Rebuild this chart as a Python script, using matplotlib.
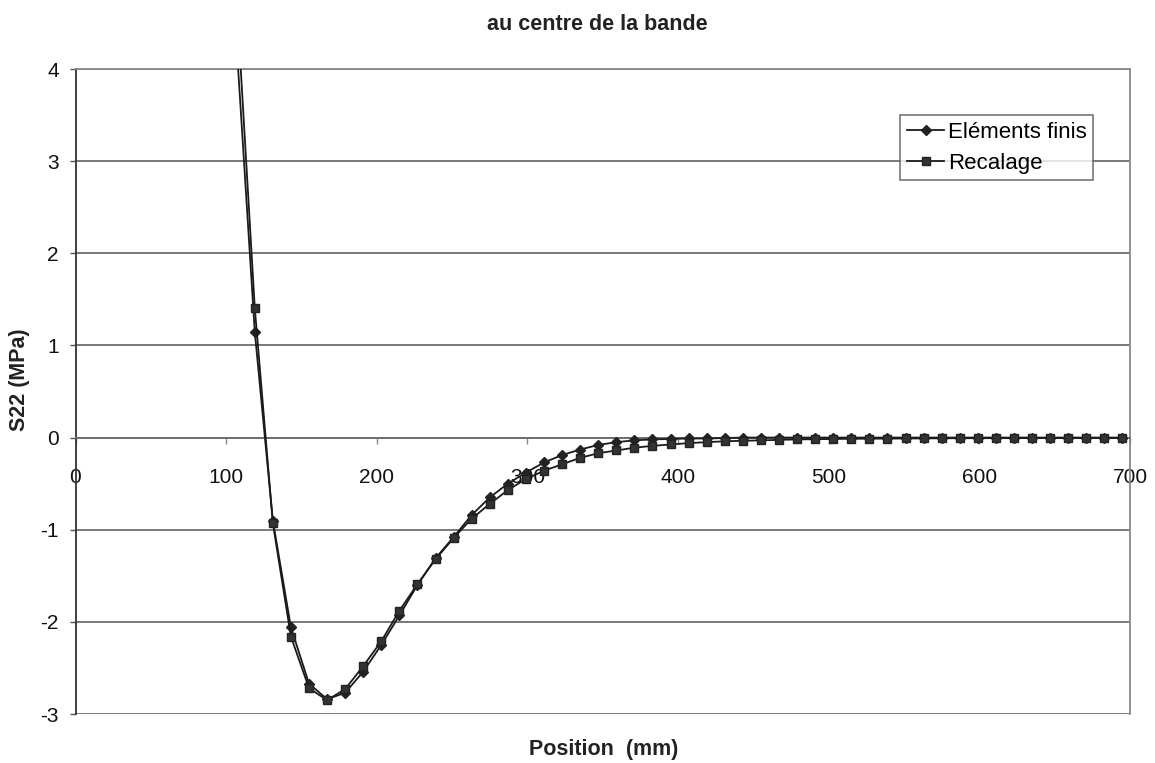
import matplotlib
matplotlib.use("Agg")
import matplotlib.pyplot as plt

plt.rcParams['font.family'] = ['Liberation Sans', 'DejaVu Sans']

# Positions (mm) of the plotted points
position = [107, 119, 131, 143, 155, 167, 179, 191, 203, 215, 227, 239, 251, 263, 275, 287,
            299, 311, 323, 335, 347, 359, 371, 383, 395, 407, 419, 431, 443, 455,
            467, 479, 491, 503, 515, 527, 539, 551, 563, 575, 587, 599, 611, 623,
            635, 647, 659, 671, 683, 695]

elements_finis = [4.25, 1.15, -0.90, -2.06, -2.67, -2.84, -2.77, -2.54, -2.25, -1.93, -1.60, -1.31,
                  -1.08, -0.84, -0.65, -0.50, -0.38, -0.27, -0.19, -0.13, -0.08,
                  -0.05, -0.03, -0.02, -0.015, -0.01, -0.01, -0.005, 0.0, 0.0,
                  0.0, 0.0, 0.0, 0.0, 0.0, 0.0, 0.0, 0.0, 0.0, 0.0, 0.0, 0.0,
                  0.0, 0.0, 0.0, 0.0, 0.0, 0.0, 0.0, 0.0]

recalage = [4.75, 1.41, -0.93, -2.16, -2.72, -2.85, -2.73, -2.48, -2.21, -1.88, -1.59, -1.32,
            -1.09, -0.88, -0.72, -0.57, -0.45, -0.36, -0.29, -0.22, -0.17,
            -0.14, -0.11, -0.09, -0.075, -0.06, -0.05, -0.04, -0.035, -0.03,
            -0.025, -0.02, -0.018, -0.015, -0.013, -0.012, -0.011, -0.01, -0.009, -0.008, -0.007, -0.007,
            -0.006, -0.006, -0.005, -0.005, -0.005, -0.004, -0.004, -0.004]

x_ticks = [0, 100, 200, 300, 400, 500, 600, 700]
y_ticks = [-3, -2, -1, 0, 1, 2, 3, 4]

title = "au centre de la bande"
x_label = "Position  (mm)"
y_label = "S22 (MPa)"
legend_labels = ["Eléments finis", "Recalage"]

fig = plt.figure(figsize=(11.55, 7.63), dpi=100)
ax = fig.add_axes([75.5 / 1155, 1 - 714 / 763, (1130 - 75.5) / 1155, (714 - 69) / 763])

ax.spines['bottom'].set_position(('data', 0))

line_col = '#1a1a1a'
ax.plot(position, elements_finis, color=line_col, lw=1.3, marker='D', ms=5.2,
        mfc='#222222', mec='#222222', label=legend_labels[0], zorder=3)
ax.plot(position, recalage, color=line_col, lw=1.3, marker='s', ms=6.0,
        mfc='#333333', mec='#222222', label=legend_labels[1], zorder=3)

ax.set_xlim(0, 700)
ax.set_ylim(-3, 4)
ax.set_xticks(x_ticks)
ax.set_yticks(y_ticks)
ax.set_xticklabels([str(v) for v in x_ticks])
ax.set_yticklabels([str(v) for v in y_ticks])

ax.set_axisbelow(True)
ax.yaxis.grid(True, color='#6e6e6e', lw=1.3)
ax.xaxis.grid(False)

ax.spines['bottom'].set_color('#6e6e6e')
ax.spines['bottom'].set_linewidth(1.3)
ax.spines['left'].set_color('#333333')
ax.spines['left'].set_linewidth(1.3)
for s in ('top', 'right'):
    ax.spines[s].set_color('#888888')
    ax.spines[s].set_linewidth(1.3)

ax.tick_params(axis='x', direction='out', length=4, width=1, color='#888888', pad=18,
               labelcolor='#111111', labelsize=15)
ax.tick_params(axis='y', direction='out', length=4, width=1, color='#555555', pad=8,
               labelcolor='#111111', labelsize=15)

leg = ax.legend(loc='upper left', bbox_to_anchor=((900 - 75.5) / (1130 - 75.5), 1 - (115 - 69) / (714 - 69)),
                fontsize=16, frameon=True, fancybox=False, edgecolor='#555555',
                handlelength=1.7, handletextpad=0.15, borderpad=0.3, labelspacing=0.45,
                borderaxespad=0, markerscale=1.0)
leg.get_frame().set_linewidth(1.2)

fig.text(597 / 1155, 1 - 25 / 763, title, ha='center', va='center', fontsize=15.5,
         fontweight='bold', color='#222222')
fig.text(604 / 1155, 1 - 749 / 763, x_label, ha='center', va='center', fontsize=15.5,
         fontweight='bold', color='#222222')
fig.text(20 / 1155, 1 - 380 / 763, y_label, ha='center', va='center', fontsize=15.5,
         fontweight='bold', color='#222222', rotation=90)

fig.savefig("out.png", dpi=100, facecolor='white')
